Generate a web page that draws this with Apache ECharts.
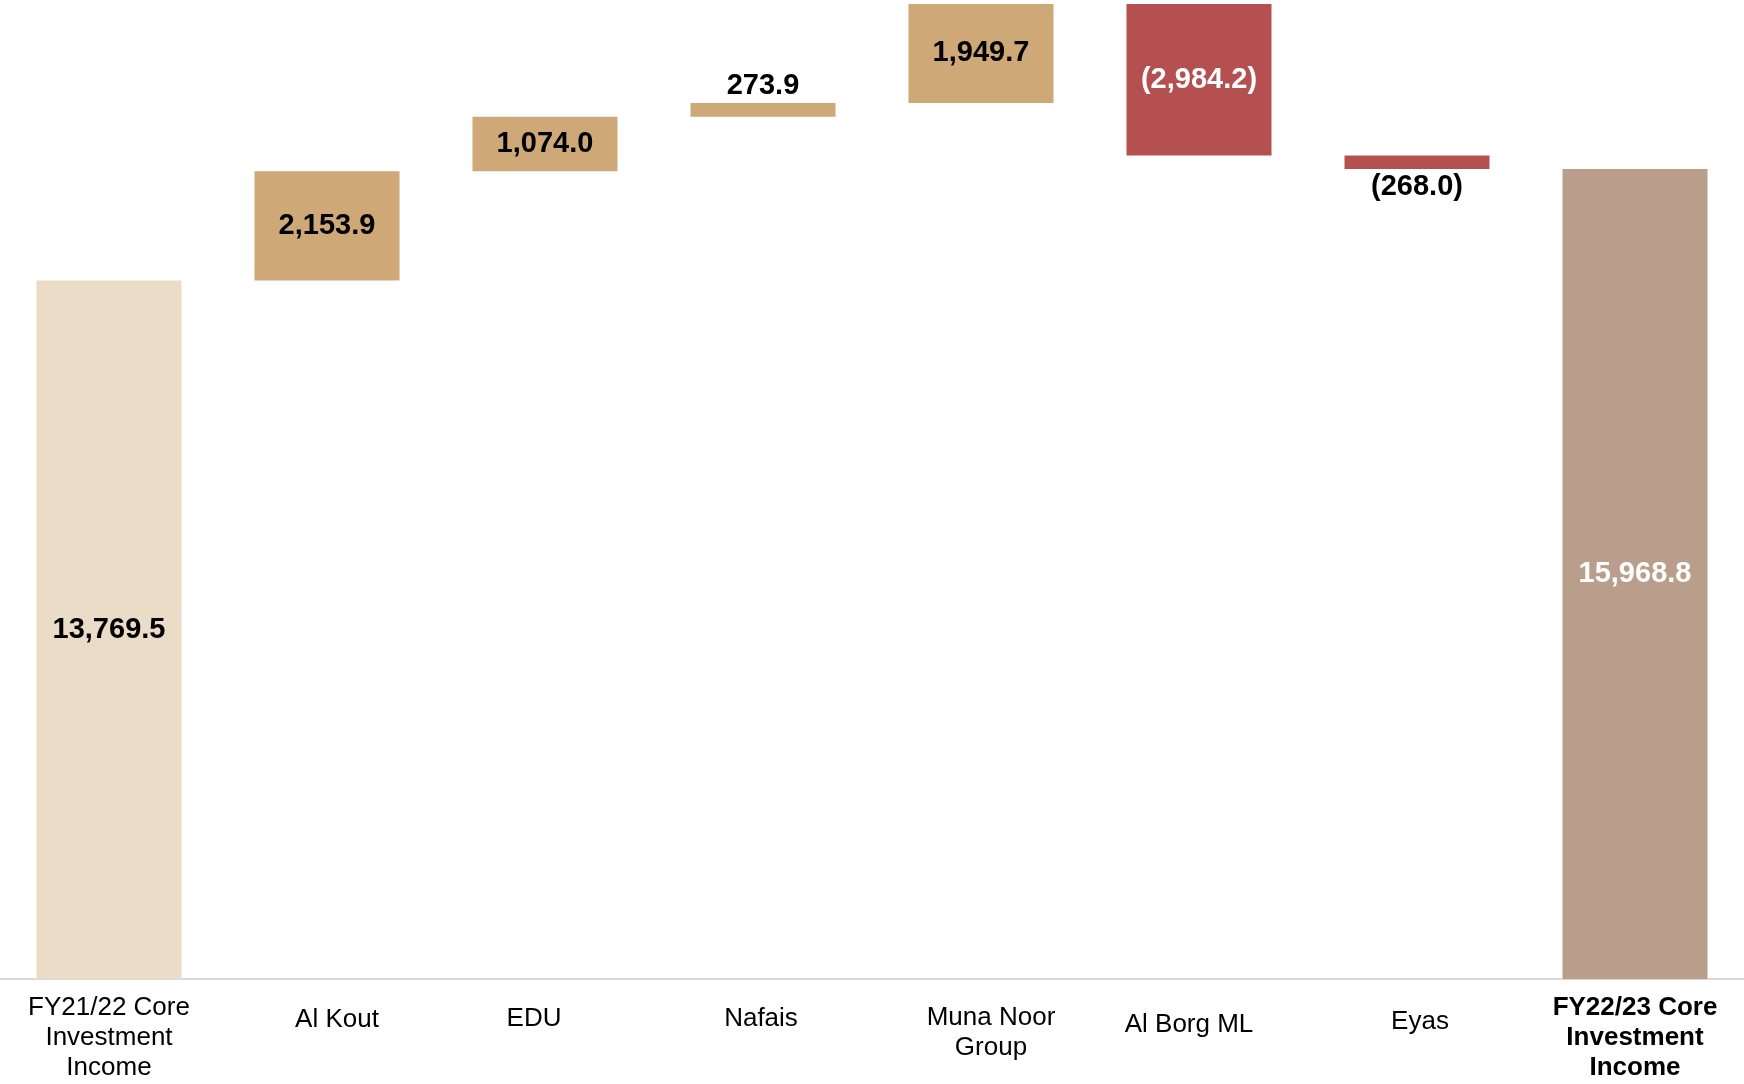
<!DOCTYPE html>
<html>
<head>
<meta charset="utf-8">
<script src="https://cdn.jsdelivr.net/npm/echarts@6/dist/echarts.min.js"></script>
<style>
html,body{margin:0;padding:0;background:#fff;}
#chart{width:1744px;height:1084px;}
</style>
</head>
<body>
<div id="chart"></div>
<script>
const categories = ['FY21/22 Core\nInvestment\nIncome', 'Al Kout', 'EDU', 'Nafais', 'Muna Noor\nGroup', 'Al Borg ML', 'Eyas', 'FY22/23 Core\nInvestment\nIncome'];
const values = [13769.5, 2153.9, 1074.0, 273.9, 1949.7, -2984.2, -268.0, 15968.8];
const kinds = ['total', 'delta', 'delta', 'delta', 'delta', 'delta', 'delta', 'total'];

const colors = { start: '#EADCC6', up: '#CEA977', down: '#B55050', end: '#B99E8C' };

function fmt(v) {
  const s = Math.abs(v).toLocaleString('en-US', { minimumFractionDigits: 1, maximumFractionDigits: 1 });
  return v < 0 ? '(' + s + ')' : s;
}

// waterfall bases
const base = [];
const size = [];
let running = 0;
values.forEach((v, i) => {
  if (kinds[i] === 'total') {
    base.push(0); size.push(v); running = v;
  } else if (v >= 0) {
    base.push(running); size.push(v); running += v;
  } else {
    running += v; base.push(running); size.push(-v);
  }
});

// label layout tweaks (style only)
const labelPad = [[0,0,0,0],[12,0,0,20],[11,22,0,0],[11,4,0,0],[10,0,0,20],[17,20,0,0],[14,0,0,6],[0,0,0,0]];

const barData = values.map((v, i) => {
  let color, pos = 'inside', lcolor = '#000', dist = 5;
  if (i === 0) color = colors.start;
  else if (i === values.length - 1) { color = colors.end; lcolor = '#fff'; }
  else if (v >= 0) color = colors.up;
  else { color = colors.down; }
  if (i === 5) lcolor = '#fff';
  if (i === 3) { pos = 'top'; dist = 2; }
  if (i === 6) { pos = 'bottom'; dist = 4; }
  return {
    value: size[i],
    itemStyle: { color: color },
    label: { position: pos, color: lcolor, distance: dist }
  };
});

const chart = echarts.init(document.getElementById('chart'));
chart.setOption({
  animation: false,
  backgroundColor: '#fff',
  grid: { left: 0, right: 0, top: 0, bottom: 105, containLabel: false },
  xAxis: {
    type: 'category',
    data: categories.map((c, i) => ({
      value: c,
      textStyle: {
        padding: labelPad[i],
        fontWeight: i === categories.length - 1 ? 'bold' : 'normal'
      }
    })),
    axisLine: { show: true, lineStyle: { color: '#d9d9d9', width: 2 } },
    axisTick: { show: false },
    axisLabel: {
      interval: 0,
      margin: 14,
      verticalAlign: 'top',
      fontFamily: "'Liberation Sans', Arial, sans-serif",
      fontSize: 26,
      lineHeight: 30,
      color: '#000'
    }
  },
  yAxis: {
    type: 'value',
    min: 0,
    max: 19300,
    show: false,
    splitLine: { show: false }
  },
  series: [
    {
      type: 'bar',
      stack: 'wf',
      data: base,
      barWidth: 145,
      itemStyle: { color: 'transparent' },
      emphasis: { disabled: true },
      silent: true
    },
    {
      type: 'bar',
      stack: 'wf',
      data: barData,
      barWidth: 145,
      label: {
        show: true,
        fontFamily: "'Liberation Sans', Arial, sans-serif",
        fontSize: 29,
        fontWeight: 'bold',
        formatter: p => fmt(values[p.dataIndex])
      }
    }
  ]
});
</script>
</body>
</html>
